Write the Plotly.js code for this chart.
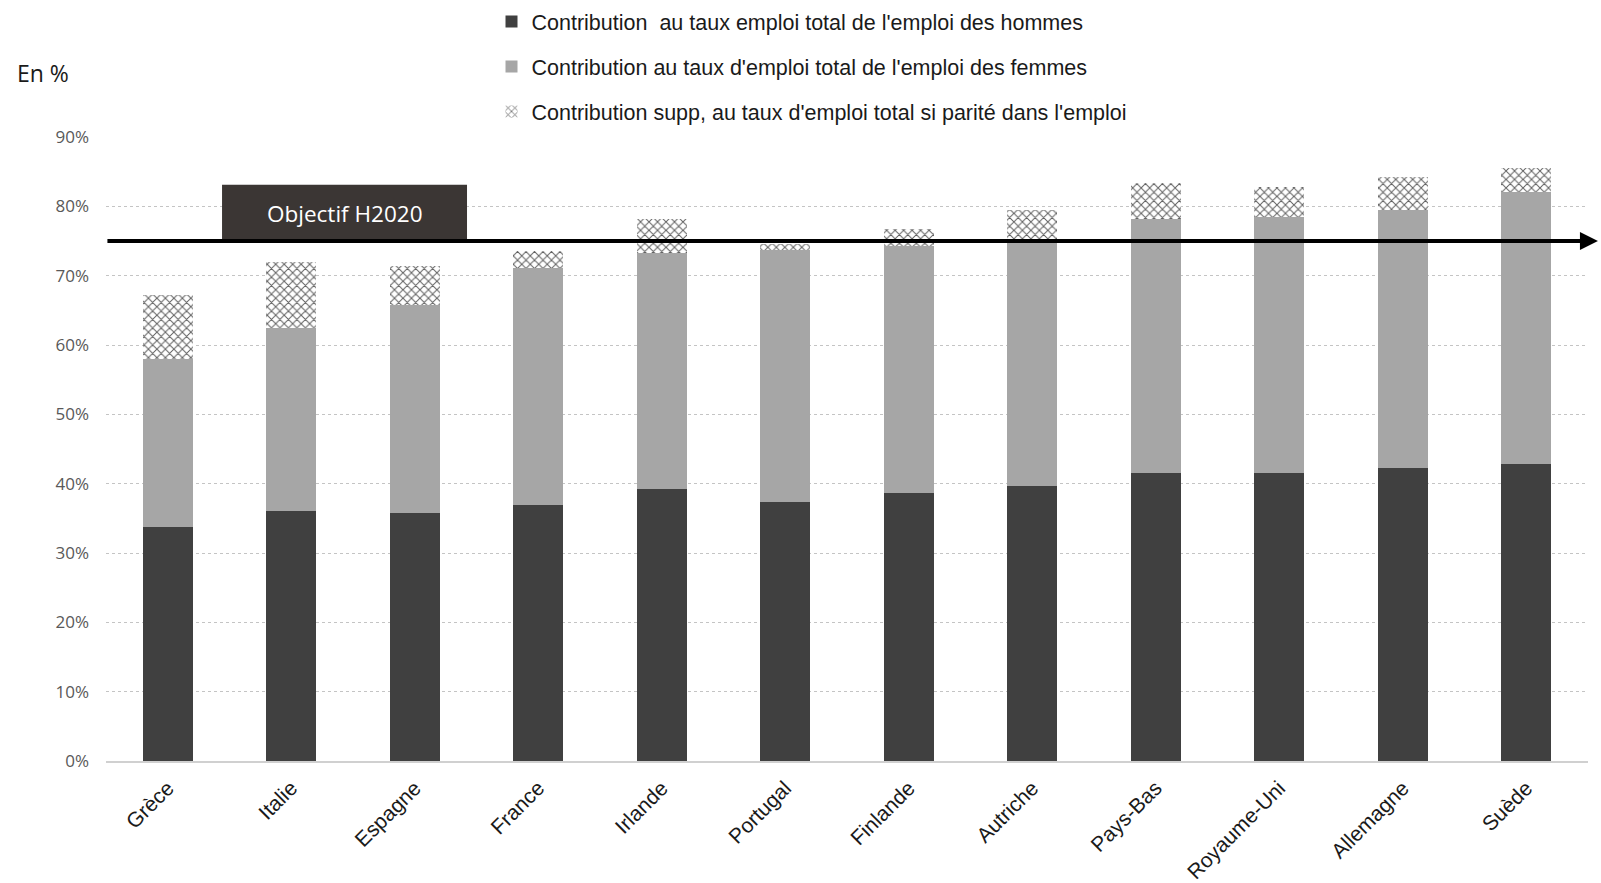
<!DOCTYPE html>
<html>
<head>
<meta charset="utf-8">
<script src="https://cdn.plot.ly/plotly-3.0.1.min.js"></script>
<style>
html,body{margin:0;padding:0;background:#fff;}
#chart{width:1601px;height:883px;}
</style>
</head>
<body>
<div id="chart"></div>
<script>
const pays = ["Grèce","Italie","Espagne","France","Irlande","Portugal","Finlande","Autriche","Pays-Bas","Royaume-Uni","Allemagne","Suède"];
const hommes = [33.7,36.1,35.7,36.9,39.3,37.3,38.6,39.7,41.6,41.5,42.2,42.8];
const femmes = [24.3,26.3,30.0,34.2,33.9,36.4,35.7,35.6,36.6,36.9,37.2,39.2];
const supp   = [9.2,9.5,5.7,2.4,5.0,0.8,2.5,4.1,5.2,4.4,4.9,3.5];
const objectif = 75;
const yTickVals = [0,10,20,30,40,50,60,70,80,90];
const yTickText = ["0%","10%","20%","30%","40%","50%","60%","70%","80%","90%"];
const seriesNames = [
  "Contribution  au taux emploi total de l'emploi des hommes",
  "Contribution au taux d'emploi total de l'emploi des femmes",
  "Contribution supp, au taux d'emploi total si parité dans l'emploi"
];
const boxLabel = "Objectif H2020";

const traces = [
  {type:'bar', x:pays, y:hommes, name:seriesNames[0], legendgroup:'a',
   marker:{color:'#404040'}, hoverinfo:'y'},
  {type:'bar', x:pays, y:femmes, name:seriesNames[1], legendgroup:'b',
   marker:{color:'#a6a6a6'}, hoverinfo:'y'},
  {type:'bar', x:pays, y:supp, name:seriesNames[2], legendgroup:'c',
   marker:{color:'#ffffff', pattern:{shape:'x', fgcolor:'#606060', bgcolor:'#ffffff', size:6, solidity:0.3}}, hoverinfo:'y'}
];

const layout = {
  width:1601, height:883,
  paper_bgcolor:'#ffffff', plot_bgcolor:'#ffffff',
  margin:{l:106, r:13, t:137, b:122, autoexpand:false},
  barmode:'stack', bargap:0.595,
  font:{family:'Liberation Sans, Arial, sans-serif', color:'#222'},
  showlegend:true,
  legend:{xref:'container', yref:'container', x:0.307, y:1-1/883, xanchor:'left', yanchor:'top',
          traceorder:'grouped', tracegroupgap:14, font:{size:21.5, color:'#1a1a1a', family:'Liberation Sans, Arial, sans-serif'},
          bgcolor:'rgba(0,0,0,0)', itemwidth:30},
  xaxis:{type:'category', showgrid:false, showline:true, linecolor:'#d0d0d0', linewidth:1.5,
         ticks:'', tickangle:-45, tickfont:{size:21, color:'#1a1a1a', family:'Liberation Sans, Arial, sans-serif'},
         ticklabelstandoff:5, zeroline:false, automargin:false},
  yaxis:{range:[0,90], tickvals:yTickVals, ticktext:yTickText, showgrid:true, gridcolor:'#c4c4c4',
         griddash:'dot', gridwidth:1, zeroline:false, showline:false, ticks:'', automargin:false,
         tickfont:{size:17, color:'#595959', family:'Open Sans, sans-serif'}, ticklabelstandoff:16},
  shapes:[
    {type:'rect', xref:'paper', yref:'y', x0:0.0783, x1:0.2436, y0:objectif, y1:83.1,
     fillcolor:'#3b3634', line:{width:0}, layer:'above'}
  ],
  annotations:[
    {xref:'paper', yref:'y', x:1.0067, y:objectif, text:'', showarrow:true,
     axref:'pixel', ayref:'pixel', ax:-1492, ay:0, arrowhead:2, arrowsize:0.9, arrowwidth:4,
     arrowcolor:'#000000', standoff:0, startstandoff:0},
    {xref:'paper', yref:'y', x:0.161, y:79.0, xanchor:'center', yanchor:'middle', text:boxLabel, showarrow:false,
     font:{family:'Open Sans, sans-serif', size:22.5, color:'#ffffff'}},
    {xref:'paper', yref:'paper', x:(15-106)/1482, y:(761-73)/624, xanchor:'left', yanchor:'middle',
     text:'En %', showarrow:false, font:{family:'Open Sans, sans-serif', size:23, color:'#1a1a1a'}}
  ]
};

Plotly.newPlot('chart', traces, layout, {displayModeBar:false, staticPlot:true});
</script>
</body>
</html>
